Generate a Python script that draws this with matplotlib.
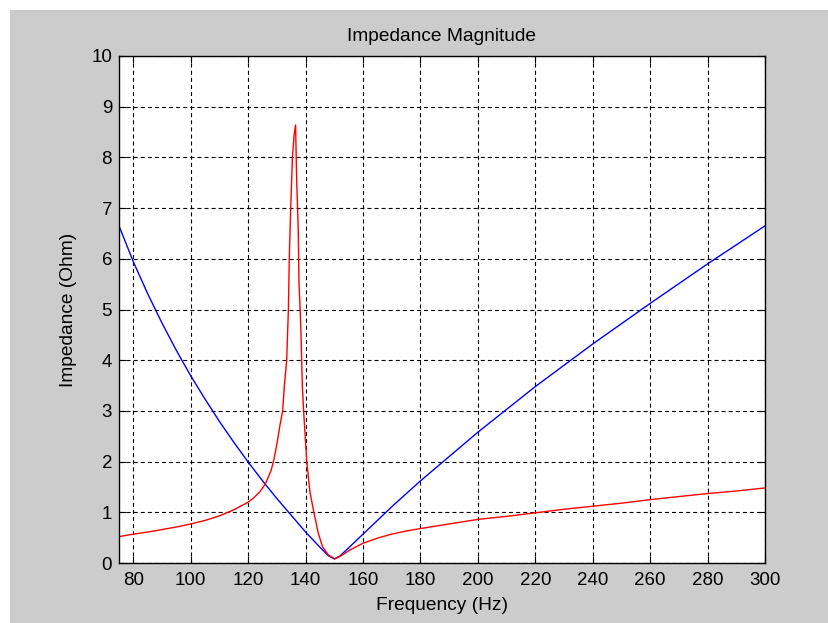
import matplotlib
matplotlib.use('Agg')
import matplotlib.pyplot as plt
from matplotlib.patches import Rectangle

# values
freq_blue = [75, 80, 85, 90, 95, 100, 105, 110, 115, 120, 125, 130, 135, 140,
             145, 148, 150, 152, 155, 160, 170, 180, 200, 220, 240, 260, 280, 300]
z_blue = [6.65, 5.94, 5.31, 4.73, 4.19, 3.69, 3.23, 2.79, 2.38, 1.99, 1.62, 1.27,
          0.94, 0.61, 0.31, 0.14, 0.08, 0.14, 0.30, 0.57, 1.11, 1.62, 2.58, 3.48,
          4.32, 5.12, 5.90, 6.65]

freq_red = [75, 80, 85, 90, 95, 100, 105, 110, 115, 120, 122, 124, 126, 128, 129,
            130, 131, 132, 132.6, 133.4, 134.0, 134.3, 134.8, 135.4, 136.0, 136.5,
            136.9, 137.2, 137.45, 137.7, 138.1, 138.4, 138.85, 139.3, 140.4, 141.5,
            142.7, 144.4, 145.9, 147.9, 150.2, 152, 155.5, 160, 165, 170, 175, 180,
            190, 200, 210, 220, 230, 240, 250, 260, 270, 280, 290, 300]
z_red = [0.52, 0.57, 0.61, 0.66, 0.71, 0.77, 0.84, 0.93, 1.05, 1.20, 1.29, 1.40,
         1.56, 1.83, 2.05, 2.35, 2.70, 3.00, 3.50, 4.00, 5.00, 6.00, 7.00, 8.00,
         8.45, 8.64, 7.50, 7.00, 6.50, 5.50, 5.00, 4.50, 3.50, 3.00, 2.00, 1.40,
         1.05, 0.59, 0.32, 0.16, 0.08, 0.13, 0.26, 0.39, 0.49, 0.57, 0.63, 0.68,
         0.77, 0.86, 0.92, 0.99, 1.06, 1.12, 1.18, 1.25, 1.31, 1.37, 1.42, 1.48]

x_ticks = [80, 100, 120, 140, 160, 180, 200, 220, 240, 260, 280, 300]
y_ticks = [0, 1, 2, 3, 4, 5, 6, 7, 8, 9, 10]

plt.rcParams['font.family'] = ['Liberation Sans', 'DejaVu Sans']
plt.rcParams['lines.scale_dashes'] = False

W, H = 829, 623
fig = plt.figure(figsize=(W / 100, H / 100), dpi=100, facecolor='white')

# grey matlab figure background, small white strip at top and left
fig.add_artist(Rectangle((10 / W, 0), 1, (H - 10) / H, transform=fig.transFigure,
                         facecolor='#cccccc', edgecolor='none', zorder=-10))

ax = fig.add_axes([119 / W, (H - 563) / H, (765 - 119) / W, (563 - 56) / H])
ax.set_facecolor('white')

ax.plot(freq_blue, z_blue, color='#0000ff', linewidth=1.0)
ax.plot(freq_red, z_red, color='#ff0000', linewidth=1.0)

ax.set_xlim(75, 300)
ax.set_ylim(0, 10)
ax.set_xticks(x_ticks)
ax.set_yticks(y_ticks)

ax.grid(True, color='black', linestyle=(0, (2.9, 2.2)), linewidth=0.8)
ax.tick_params(direction='in', length=4.7, width=0.8, top=True, right=True,
               labelsize=13.5, colors='black')
ax.tick_params(axis='x', pad=6.3)
ax.tick_params(axis='y', pad=5)
for s in ax.spines.values():
    s.set_linewidth(1.0)

ax.set_title('Impedance Magnitude', fontsize=13.8, pad=11)
ax.set_xlabel('Frequency (Hz)', fontsize=13.8, labelpad=6)
ax.set_ylabel('Impedance (Ohm)', fontsize=13.8, labelpad=10)

fig.savefig('out.png', dpi=100, facecolor=fig.get_facecolor())
